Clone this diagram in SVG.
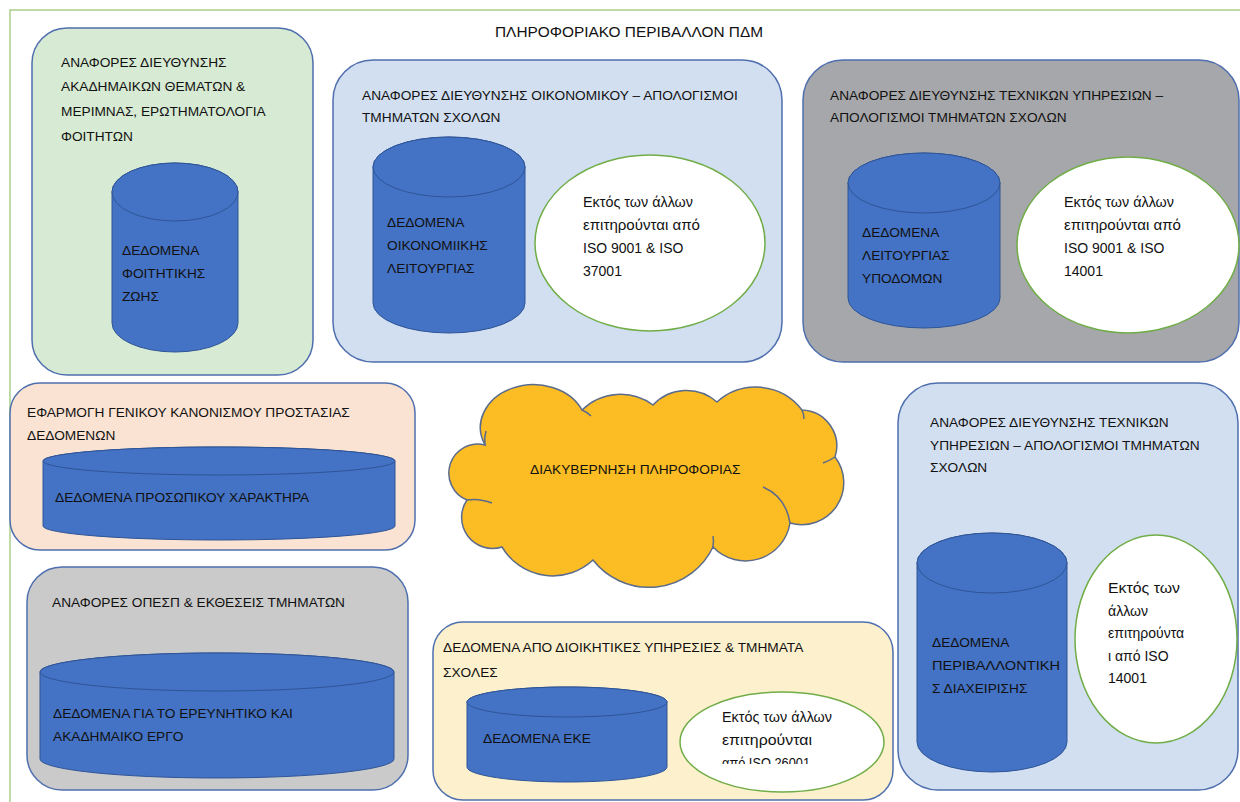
<svg xmlns="http://www.w3.org/2000/svg" width="1240" height="802" viewBox="0 0 1240 802">
<defs>
<style>
.box{stroke:#4f6fae;stroke-width:1.5}
.cyl{fill:#4472c4;stroke:#2f5597;stroke-width:1}
.iso{fill:#ffffff;stroke:#70ad47;stroke-width:1.5}
.t{font-family:"Liberation Sans",Arial,sans-serif;font-size:13.7px;fill:#111}
.l{font-family:"Liberation Sans",Arial,sans-serif;font-size:14px;fill:#111}
</style>
<clipPath id="clipE7"><rect x="680" y="690" width="210" height="74"/></clipPath>
</defs>
<rect width="1240" height="802" fill="#ffffff"/>
<path d="M10,802 V10 H1240" fill="none" stroke="#a9cf8a" stroke-width="1.5"/>
<text x="495" y="37" font-family="Liberation Sans, Arial, sans-serif" font-size="15" fill="#111" textLength="268" lengthAdjust="spacingAndGlyphs">ΠΛΗΡΟΦΟΡΙΑΚΟ ΠΕΡΙΒΑΛΛΟΝ ΠΔΜ</text>

<g id="box-students">
<rect class="box" x="32" y="28" width="281" height="347" rx="35" fill="#d7ead3"/>
<text class="t" x="61" y="67">ΑΝΑΦΟΡΕΣ ΔΙΕΥΘΥΝΣΗΣ</text>
<text class="t" x="61" y="91">ΑΚΑΔΗΜΑΙΚΩΝ ΘΕΜΑΤΩΝ &amp;</text>
<text class="t" x="61" y="116">ΜΕΡΙΜΝΑΣ, ΕΡΩΤΗΜΑΤΟΛΟΓΙΑ</text>
<text class="t" x="61" y="141">ΦΟΙΤΗΤΩΝ</text>
<g id="db-students">
<path class="cyl" d="M112,192 V323 A63,29 0 0 0 238,323 V192 A63,29 0 0 0 112,192 Z"/>
<ellipse class="cyl" cx="175" cy="192" rx="63" ry="29"/>
<text class="t" x="122" y="255">ΔΕΔΟΜΕΝΑ</text>
<text class="t" x="122" y="278">ΦΟΙΤΗΤΙΚΗΣ</text>
<text class="t" x="122" y="301">ΖΩΗΣ</text>
</g>
</g>

<g id="box-finance">
<rect class="box" x="333" y="60" width="449" height="302" rx="40" fill="#d2dff0"/>
<text class="t" x="362" y="100">ΑΝΑΦΟΡΕΣ ΔΙΕΥΘΥΝΣΗΣ  ΟΙΚΟΝΟΜΙΚΟΥ – ΑΠΟΛΟΓΙΣΜΟΙ</text>
<text class="t" x="362" y="122">ΤΜΗΜΑΤΩΝ  ΣΧΟΛΩΝ</text>
<g id="db-finance">
<path class="cyl" d="M373,167 V303 A76,30 0 0 0 525,303 V167 A76,30 0 0 0 373,167 Z"/>
<ellipse class="cyl" cx="449" cy="167" rx="76" ry="30"/>
<text class="t" x="387" y="227">ΔΕΔΟΜΕΝΑ</text>
<text class="t" x="387" y="250">ΟΙΚΟΝΟΜΙΙΚΗΣ</text>
<text class="t" x="387" y="273">ΛΕΙΤΟΥΡΓΙΑΣ</text>
</g>
<g id="iso-finance">
<ellipse class="iso" cx="650" cy="243" rx="115" ry="88"/>
<text class="l" x="583" y="207" textLength="110" lengthAdjust="spacingAndGlyphs">Εκτός των άλλων</text>
<text class="l" x="583" y="230" textLength="117" lengthAdjust="spacingAndGlyphs">επιτηρούνται από</text>
<text class="l" x="583" y="253">ISO 9001 &amp; ISO</text>
<text class="l" x="583" y="276">37001</text>
</g>
</g>

<g id="box-technical">
<rect class="box" x="803" y="60" width="436" height="302" rx="40" fill="#a6a7aa"/>
<text class="t" x="830" y="100">ΑΝΑΦΟΡΕΣ ΔΙΕΥΘΥΝΣΗΣ  ΤΕΧΝΙΚΩΝ ΥΠΗΡΕΣΙΩΝ –</text>
<text class="t" x="830" y="122">ΑΠΟΛΟΓΙΣΜΟΙ ΤΜΗΜΑΤΩΝ  ΣΧΟΛΩΝ</text>
<g id="db-infra">
<path class="cyl" d="M848,183 V298 A76,30 0 0 0 1000,298 V183 A76,30 0 0 0 848,183 Z"/>
<ellipse class="cyl" cx="924" cy="183" rx="76" ry="30"/>
<text class="t" x="862" y="237">ΔΕΔΟΜΕΝΑ</text>
<text class="t" x="862" y="260">ΛΕΙΤΟΥΡΓΙΑΣ</text>
<text class="t" x="862" y="283">ΥΠΟΔΟΜΩΝ</text>
</g>
<g id="iso-technical">
<ellipse class="iso" cx="1128" cy="245" rx="111" ry="88"/>
<text class="l" x="1064" y="207" textLength="110" lengthAdjust="spacingAndGlyphs">Εκτός των άλλων</text>
<text class="l" x="1064" y="230" textLength="117" lengthAdjust="spacingAndGlyphs">επιτηρούνται από</text>
<text class="l" x="1064" y="253">ISO 9001 &amp; ISO</text>
<text class="l" x="1064" y="276">14001</text>
</g>
</g>

<g id="box-gdpr">
<rect class="box" x="10" y="383" width="405" height="167" rx="30" fill="#fbe3d3"/>
<text class="t" x="27" y="417">ΕΦΑΡΜΟΓΗ ΓΕΝΙΚΟΥ  ΚΑΝΟΝΙΣΜΟΥ ΠΡΟΣΤΑΣΙΑΣ</text>
<text class="t" x="27" y="440">ΔΕΔΟΜΕΝΩΝ</text>
<g id="db-personal">
<path class="cyl" d="M43,461 V526 A176,14 0 0 0 395,526 V461 A176,14 0 0 0 43,461 Z"/>
<ellipse class="cyl" cx="219" cy="461" rx="176" ry="14"/>
<text class="t" x="55" y="502">ΔΕΔΟΜΕΝΑ  ΠΡΟΣΩΠΙΚΟΥ ΧΑΡΑΚΤΗΡΑ</text>
</g>
</g>

<g id="cloud-governance">
<path d="M485,445 A29,29 0 0 0 467,500 A31,31 0 0 0 502,547 A59,59 0 0 0 593,560 A71,71 0 0 0 713,547 A45,45 0 0 0 790,523 A42,42 0 0 0 835,457 A36,36 0 0 0 802,410 A58,58 0 0 0 717,402 A46,46 0 0 0 653,405 A55,55 0 0 0 582,410 A52,42 0 0 0 485,445 Z" fill="#fbbc24" stroke="#5b6b8c" stroke-width="1.5"/>
<g fill="none" stroke="#5b6b8c" stroke-width="1.5">
<path d="M467,500 Q479,498 492,503"/>
<path d="M763,487 Q786,497 790,523"/>
<path d="M713,547 Q714,541 713,536"/>
<path d="M835,457 Q829,461 823,463"/>
<path d="M802,410 Q804,414 804,419"/>
<path d="M582,410 Q587,412 591,416"/>
<path d="M485,445 Q484,438 486,431"/>
</g>
<text class="t" x="530" y="474">ΔΙΑΚΥΒΕΡΝΗΣΗ ΠΛΗΡΟΦΟΡΙΑΣ</text>
</g>

<g id="box-environment">
<rect class="box" x="898" y="383" width="340" height="407" rx="40" fill="#d2dff0"/>
<text class="t" x="930" y="427">ΑΝΑΦΟΡΕΣ ΔΙΕΥΘΥΝΣΗΣ  ΤΕΧΝΙΚΩΝ</text>
<text class="t" x="930" y="450">ΥΠΗΡΕΣΙΩΝ – ΑΠΟΛΟΓΙΣΜΟΙ ΤΜΗΜΑΤΩΝ</text>
<text class="t" x="930" y="472">ΣΧΟΛΩΝ</text>
<g id="db-environment">
<path class="cyl" d="M917,563 V742 A75,30 0 0 0 1067,742 V563 A75,30 0 0 0 917,563 Z"/>
<ellipse class="cyl" cx="992" cy="563" rx="75" ry="30"/>
<text class="t" x="932" y="647">ΔΕΔΟΜΕΝΑ</text>
<text class="t" x="932" y="670" textLength="128" lengthAdjust="spacingAndGlyphs">ΠΕΡΙΒΑΛΛΟΝΤΙΚΗ</text>
<text class="t" x="932" y="693">Σ ΔΙΑΧΕΙΡΙΣΗΣ</text>
</g>
<g id="iso-environment">
<ellipse class="iso" cx="1156" cy="639" rx="81" ry="104"/>
<text class="l" x="1108" y="593" textLength="72" lengthAdjust="spacingAndGlyphs">Εκτός των</text>
<text class="l" x="1108" y="616" textLength="40" lengthAdjust="spacingAndGlyphs">άλλων</text>
<text class="l" x="1108" y="638">επιτηρούντα</text>
<text class="l" x="1108" y="661">ι από  ISO</text>
<text class="l" x="1108" y="683">14001</text>
</g>
</g>

<g id="box-research">
<rect class="box" x="27" y="567" width="381" height="223" rx="35" fill="#cacaca"/>
<text class="t" x="52" y="607">ΑΝΑΦΟΡΕΣ ΟΠΕΣΠ &amp; ΕΚΘΕΣΕΙΣ  ΤΜΗΜΑΤΩΝ</text>
<g id="db-research">
<path class="cyl" d="M40,672 V759 A177,19 0 0 0 394,759 V672 A177,19 0 0 0 40,672 Z"/>
<ellipse class="cyl" cx="217" cy="672" rx="177" ry="19"/>
<text class="t" x="53" y="718">ΔΕΔΟΜΕΝΑ ΓΙΑ ΤΟ ΕΡΕΥΝΗΤΙΚΟ ΚΑΙ</text>
<text class="t" x="53" y="741">ΑΚΑΔΗΜΑΙΚΟ ΕΡΓΟ</text>
</g>
</g>

<g id="box-admin">
<rect class="box" x="433" y="622" width="460" height="178" rx="30" fill="#fdf0cc"/>
<text class="t" x="443" y="652">ΔΕΔΟΜΕΝΑ  ΑΠΟ ΔΙΟΙΚΗΤΙΚΕΣ ΥΠΗΡΕΣΙΕΣ  &amp; ΤΜΗΜΑΤΑ</text>
<text class="t" x="443" y="677">ΣΧΟΛΕΣ</text>
<g id="db-eke">
<path class="cyl" d="M467,702 V767 A100,15 0 0 0 667,767 V702 A100,15 0 0 0 467,702 Z"/>
<ellipse class="cyl" cx="567" cy="702" rx="100" ry="15"/>
<text class="t" x="483" y="743">ΔΕΔΟΜΕΝΑ  ΕΚΕ</text>
</g>
<g id="iso-eke">
<ellipse class="iso" cx="782" cy="742" rx="102" ry="50"/>
<g clip-path="url(#clipE7)">
<text class="l" x="722" y="722" textLength="110" lengthAdjust="spacingAndGlyphs">Εκτός των άλλων</text>
<text class="l" x="722" y="745" textLength="90" lengthAdjust="spacingAndGlyphs">επιτηρούνται</text>
<text class="l" x="722" y="768" textLength="88" lengthAdjust="spacingAndGlyphs">από  ISO 26001</text>
</g>
</g>
</g>
</svg>
